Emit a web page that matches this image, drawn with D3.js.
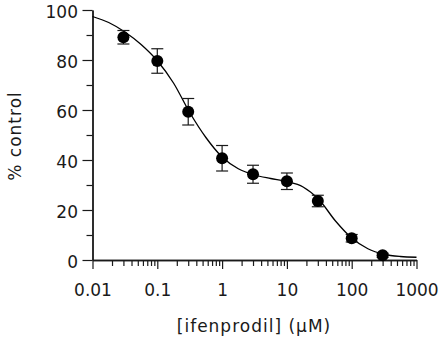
<!DOCTYPE html>
<html>
<head>
<meta charset="utf-8">
<script src="https://cdn.jsdelivr.net/npm/d3@7"></script>
<style>
  html, body { margin: 0; padding: 0; background: #fff; }
  svg { display: block; }
  text { font-family: "DejaVu Sans", sans-serif; fill: #1a1a1a; }
</style>
</head>
<body>
<svg id="chart" width="440" height="340"></svg>
<script>
// ---- data ----
const conc = [0.03, 0.1, 0.3, 1, 3, 10, 30, 100, 300];          // µM
const pctControl = [89.1, 79.6, 59.3, 40.7, 34.3, 31.5, 23.6, 8.7, 1.9];
const sem = [2.7, 4.9, 5.3, 5.1, 3.6, 3.3, 2.3, 1.5, 0.8];

// fitted curve (log10 concentration -> % control)
const curveLogConc = [-2, -1.75, -1.5, -1.25, -1, -0.75, -0.5, -0.25, 0, 0.25, 0.5, 0.75, 1, 1.25, 1.5, 1.75, 2, 2.25, 2.5, 2.75, 3];
const curveValues  = [97.4, 95.0, 91.2, 86.2, 79.7, 70.8, 59.0, 49.0, 41.2, 36.5, 34.0, 32.6, 31.4, 29.2, 24.0, 15.6, 8.8, 4.5, 2.3, 1.4, 1.1];

const xMajorTicks = [0.01, 0.1, 1, 10, 100, 1000];
const xTickLabels = ["0.01", "0.1", "1", "10", "100", "1000"];
const yMajorTicks = [0, 20, 40, 60, 80, 100];
const yMinorTicks = [10, 30, 50, 70, 90];
const xTitle = "[ifenprodil] (\u00B5M)";
const yTitle = "% control";

// ---- chart ----
const svg = d3.select("#chart");
const ink = "#1a1a1a";

const x = d3.scaleLog().domain([0.01, 1000]).range([92.5, 416.5]);
const y = d3.scaleLinear().domain([0, 100]).range([260, 10]);

const xMinorTicks = [];
[0.01, 0.1, 1, 10, 100].forEach(d => { for (let k = 2; k <= 9; k++) xMinorTicks.push(+(d * k).toPrecision(3)); });

// x axis minor ticks
const gxMinor = svg.append("g").attr("transform", `translate(0,${y(0)})`)
  .call(d3.axisBottom(x).tickValues(xMinorTicks).tickSize(6).tickSizeOuter(0).tickFormat(""));
// x axis major ticks + labels
const gx = svg.append("g").attr("transform", `translate(0,${y(0)})`)
  .call(d3.axisBottom(x).tickValues(xMajorTicks).tickSize(9).tickSizeOuter(0).tickPadding(15)
    .tickFormat((d, i) => xTickLabels[i]));

// y axis minor
const gyMinor = svg.append("g").attr("transform", `translate(${x(0.01)},0)`)
  .call(d3.axisLeft(y).tickValues(yMinorTicks).tickSize(6).tickSizeOuter(0).tickFormat(""));
// y axis major
const gy = svg.append("g").attr("transform", `translate(${x(0.01)},0)`)
  .call(d3.axisLeft(y).tickValues(yMajorTicks).tickSize(10).tickSizeOuter(0).tickPadding(4.5));

[gxMinor, gx, gyMinor, gy].forEach(g => {
  g.selectAll("path.domain").attr("stroke", ink).attr("stroke-width", 1.4);
  g.selectAll(".tick line").attr("stroke", ink).attr("stroke-width", 1.2);
  g.selectAll(".tick text").attr("font-size", 17).attr("font-family", "DejaVu Sans, sans-serif").attr("fill", ink);
});
gy.selectAll(".tick text").attr("dy", "0.42em");

// curve
const line = d3.line()
  .x((d, i) => x(Math.pow(10, curveLogConc[i])))
  .y(d => y(d))
  .curve(d3.curveMonotoneX);
svg.append("path")
  .datum(curveValues)
  .attr("d", line)
  .attr("fill", "none")
  .attr("stroke", "#000")
  .attr("stroke-width", 1.3);

// error bars
const capHalf = 6;
const eb = svg.append("g").attr("stroke", ink).attr("stroke-width", 1.2);
conc.forEach((c, i) => {
  const cx = x(c), top = y(pctControl[i] + sem[i]), bot = y(pctControl[i] - sem[i]);
  eb.append("line").attr("x1", cx).attr("x2", cx).attr("y1", top).attr("y2", bot);
  eb.append("line").attr("x1", cx - capHalf).attr("x2", cx + capHalf).attr("y1", top).attr("y2", top);
  eb.append("line").attr("x1", cx - capHalf).attr("x2", cx + capHalf).attr("y1", bot).attr("y2", bot);
});

// points
svg.append("g").selectAll("circle")
  .data(conc)
  .join("circle")
  .attr("cx", d => x(d))
  .attr("cy", (d, i) => y(pctControl[i]))
  .attr("r", 6)
  .attr("fill", "#000");

// titles
svg.append("text")
  .attr("x", 254).attr("y", 332)
  .attr("text-anchor", "middle")
  .attr("font-size", 17)
  .attr("letter-spacing", "1px")
  .text(xTitle);

svg.append("text")
  .attr("transform", "translate(20.5,136) rotate(-90)")
  .attr("text-anchor", "middle")
  .attr("font-size", 17)
  .attr("letter-spacing", "1px")
  .text(yTitle);
</script>
</body>
</html>
